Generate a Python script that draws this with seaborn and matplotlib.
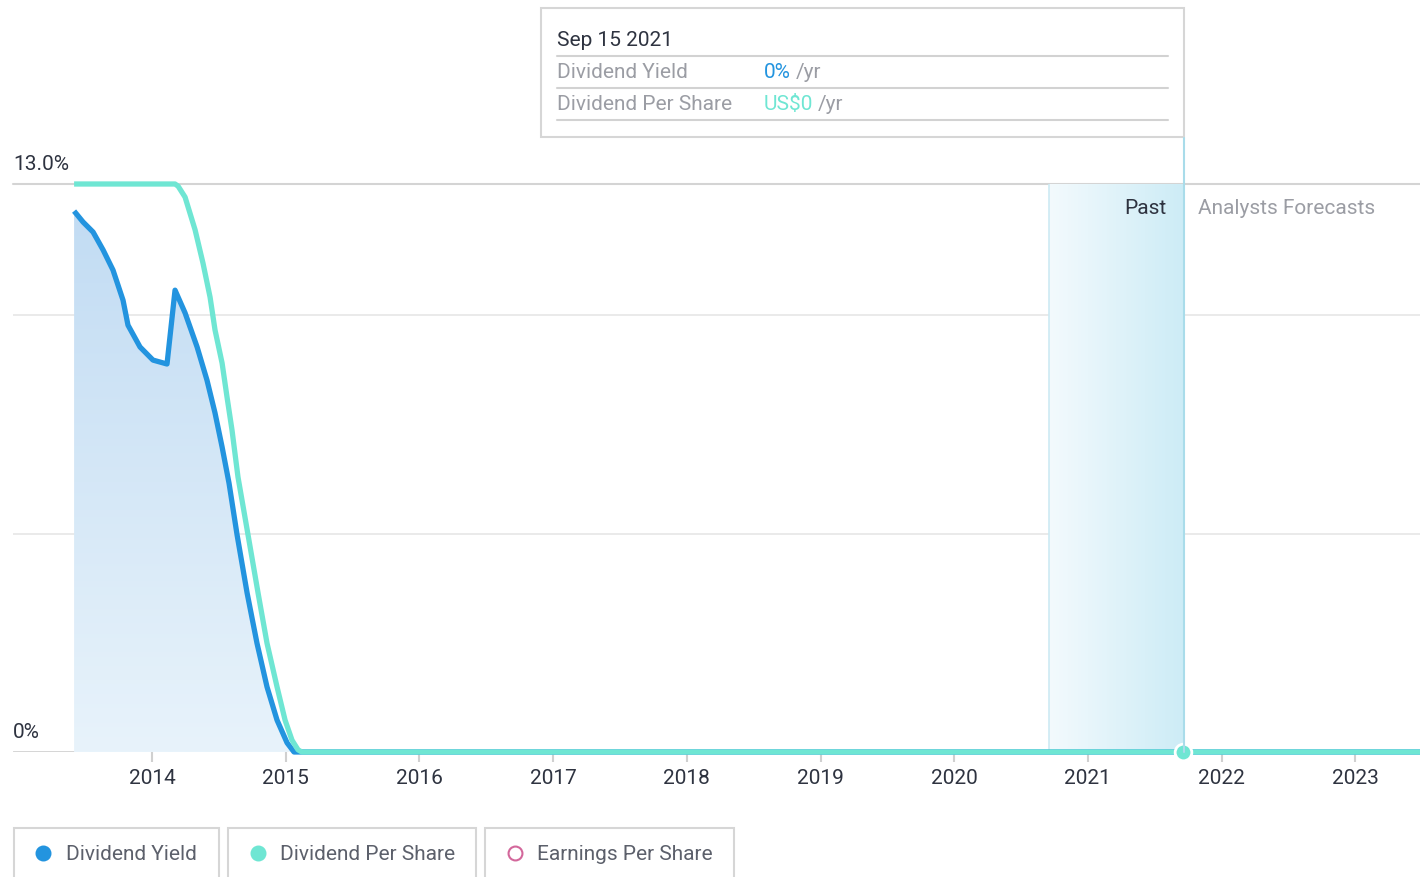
import numpy as np
import matplotlib
matplotlib.use("Agg")
import matplotlib.pyplot as plt
import seaborn as sns
from matplotlib.colors import LinearSegmentedColormap
from matplotlib.patches import Rectangle
from matplotlib.lines import Line2D

# ---- data (decimal years, dividend yield in %) ----
yield_years = [2013.417, 2013.484, 2013.559, 2013.634, 2013.708, 2013.783, 2013.820,
               2013.910, 2014.007, 2014.112, 2014.172, 2014.247, 2014.337, 2014.411,
               2014.471, 2014.524, 2014.576, 2014.636, 2014.711, 2014.785, 2014.860,
               2014.935, 2015.010, 2015.062, 2023.484]
yield_vals = [12.38, 12.13, 11.90, 11.49, 11.03, 10.34, 9.77,
              9.27, 8.97, 8.88, 10.57, 10.05, 9.27, 8.51,
              7.76, 6.98, 6.15, 4.97, 3.64, 2.49, 1.49,
              0.73, 0.21, 0.0, 0.0]

# dividend per share, drawn on the same (scaled) axis as the chart does
dps_years = [2013.417, 2014.172, 2014.195, 2014.247, 2014.322, 2014.381, 2014.434,
             2014.471, 2014.524, 2014.561, 2014.598, 2014.643, 2014.718, 2014.793,
             2014.860, 2014.935, 2014.995, 2015.047, 2015.092, 2015.120, 2023.484]
dps_vals = [13.0, 13.0, 12.95, 12.70, 11.95, 11.19, 10.41,
            9.66, 8.90, 8.12, 7.37, 6.29, 4.97, 3.64,
            2.49, 1.49, 0.73, 0.27, 0.05, 0.0, 0.0]

year_ticks = list(range(2014, 2024))
grid_levels = [5, 10]
y_max = 13.0
past_start, past_end = 2020.709, 2021.712
tooltip_date = "Sep 15 2021"
legend_labels = ["Dividend Yield", "Dividend Per Share", "Earnings Per Share"]

BLUE = "#2394df"
TEAL = "#6fe6d3"
PINK = "#d3679b"
DARK = "#2e3340"
GREY = "#9b9da4"

W, H = 1420, 877


def P(x, y):
    """pixel position -> figure fraction"""
    return x / W, 1 - y / H


def label(x, y, s, color, ha="left"):
    # text is centred a touch lower than its bbox centre in the reference
    fig.text(*P(x, y + 2), s, fontsize=15, color=color, va="center", ha=ha)


sns.set_style("white")
plt.rcParams["font.family"] = ["Roboto", "DejaVu Sans"]

fig = plt.figure(figsize=(W / 100, H / 100), dpi=100)
ax = fig.add_axes([13 / W, 125 / H, 1407 / W, 568 / H])
for s in ax.spines.values():
    s.set_visible(False)

# gridlines
for g in grid_levels:
    ax.axhline(g, color="#e6e6e6", lw=1.2, zorder=0)
ax.axhline(y_max, color="#d4d4d4", lw=1.5, zorder=0, clip_on=False)
ax.axhline(0, color="#d2d2d2", lw=2, zorder=1)

# past shading with horizontal gradient
past_cmap = LinearSegmentedColormap.from_list("past", ["#f3fafd", "#cdecf6"])
ax.imshow(np.linspace(0, 1, 256).reshape(1, -1), cmap=past_cmap, aspect="auto",
          extent=[past_start, past_end, 0, y_max], zorder=0.5)
ax.axvline(past_start, color="#cdeaf3", lw=1.2, zorder=0.6)

# dividend yield area with vertical gradient
poly = ax.fill_between(yield_years, yield_vals, 0, color="none", lw=0)
fill_cmap = LinearSegmentedColormap.from_list("fill", ["#e8f3fb", "#c2dcf3"])
im = ax.imshow(np.linspace(0, 1, 256).reshape(-1, 1), cmap=fill_cmap, aspect="auto",
               origin="lower", extent=[yield_years[0], yield_years[-1], 0, max(yield_vals)],
               zorder=1)
im.set_clip_path(poly.get_paths()[0], transform=ax.transData)

# lines
sns.lineplot(x=yield_years, y=yield_vals, ax=ax, color=BLUE, lw=3.8, zorder=3)
sns.lineplot(x=dps_years, y=dps_vals, ax=ax, color=TEAL, lw=3.8, zorder=4)
for ln in ax.lines[-2:]:
    ln.set_clip_on(False)
    ln.set_solid_capstyle("butt")
    ln.set_solid_joinstyle("round")

ax.plot([past_end], [0], marker="o", ms=12, color=TEAL, mec="white", mew=2,
        zorder=6, clip_on=False)

ax.set_xlim(2012.96, 2023.484)
ax.set_ylim(0, y_max)

# axes ticks
ax.set_xticks(year_ticks)
ax.set_xticklabels([str(y) for y in year_ticks])
ax.set_yticks([])
ax.tick_params(axis="x", length=7, width=1.5, color="#d0d0d0", labelsize=15,
               labelcolor=DARK, pad=5, bottom=True)
ax.set_xlabel("")
ax.set_ylabel("")

# vertical "now" line, extends up to the tooltip
fig.add_artist(Line2D([1184 / W, 1184 / W], [P(0, 752)[1], P(0, 138)[1]],
                      color="#a9dcea", lw=1.5, transform=fig.transFigure, zorder=5))

# y labels
label(13, 162, "13.0%", DARK)
label(13, 730, "0%", DARK)

label(1167, 207, "Past", DARK, ha="right")
label(1198, 207, "Analysts Forecasts", GREY)

# tooltip box
x0, y0 = P(541, 137)
fig.add_artist(Rectangle((x0, y0), (1184 - 541) / W, 129 / H, transform=fig.transFigure,
                         facecolor="white", edgecolor="#d6d6d6", lw=1.5))
label(557, 39, tooltip_date, DARK)
for yy in [56, 88, 120]:
    fig.add_artist(Line2D([557 / W, 1168 / W], [P(0, yy)[1]] * 2, color="#d2d2d2",
                          lw=1.5, transform=fig.transFigure))
label(557, 71, "Dividend Yield", GREY)
label(764, 71, "0%", BLUE)
label(796, 71, "/yr", GREY)
label(557, 103, "Dividend Per Share", GREY)
label(764, 103, "US$0", TEAL)
label(818, 103, "/yr", GREY)

# legend tabs
tabs = [(14, 219), (228, 476), (485, 734)]
dot_x = [43, 258, 515]
text_x = [66, 280, 537]
styles = [dict(color=BLUE, mec=BLUE), dict(color=TEAL, mec=TEAL),
          dict(color="white", mec=PINK)]
for (a, b), dx, tx, lab, st in zip(tabs, dot_x, text_x, legend_labels, styles):
    fig.add_artist(Rectangle(P(a, 890), (b - a) / W, 62 / H, transform=fig.transFigure,
                             facecolor="white", edgecolor="#d6d6d6", lw=1.5))
    fig.add_artist(Line2D([dx / W], [P(0, 853)[1]], marker="o", ms=10, mew=1.5,
                          transform=fig.transFigure, **st))
    label(tx, 853, lab, "#5c606b")

fig.savefig("out.png", dpi=100)
plt.close()
